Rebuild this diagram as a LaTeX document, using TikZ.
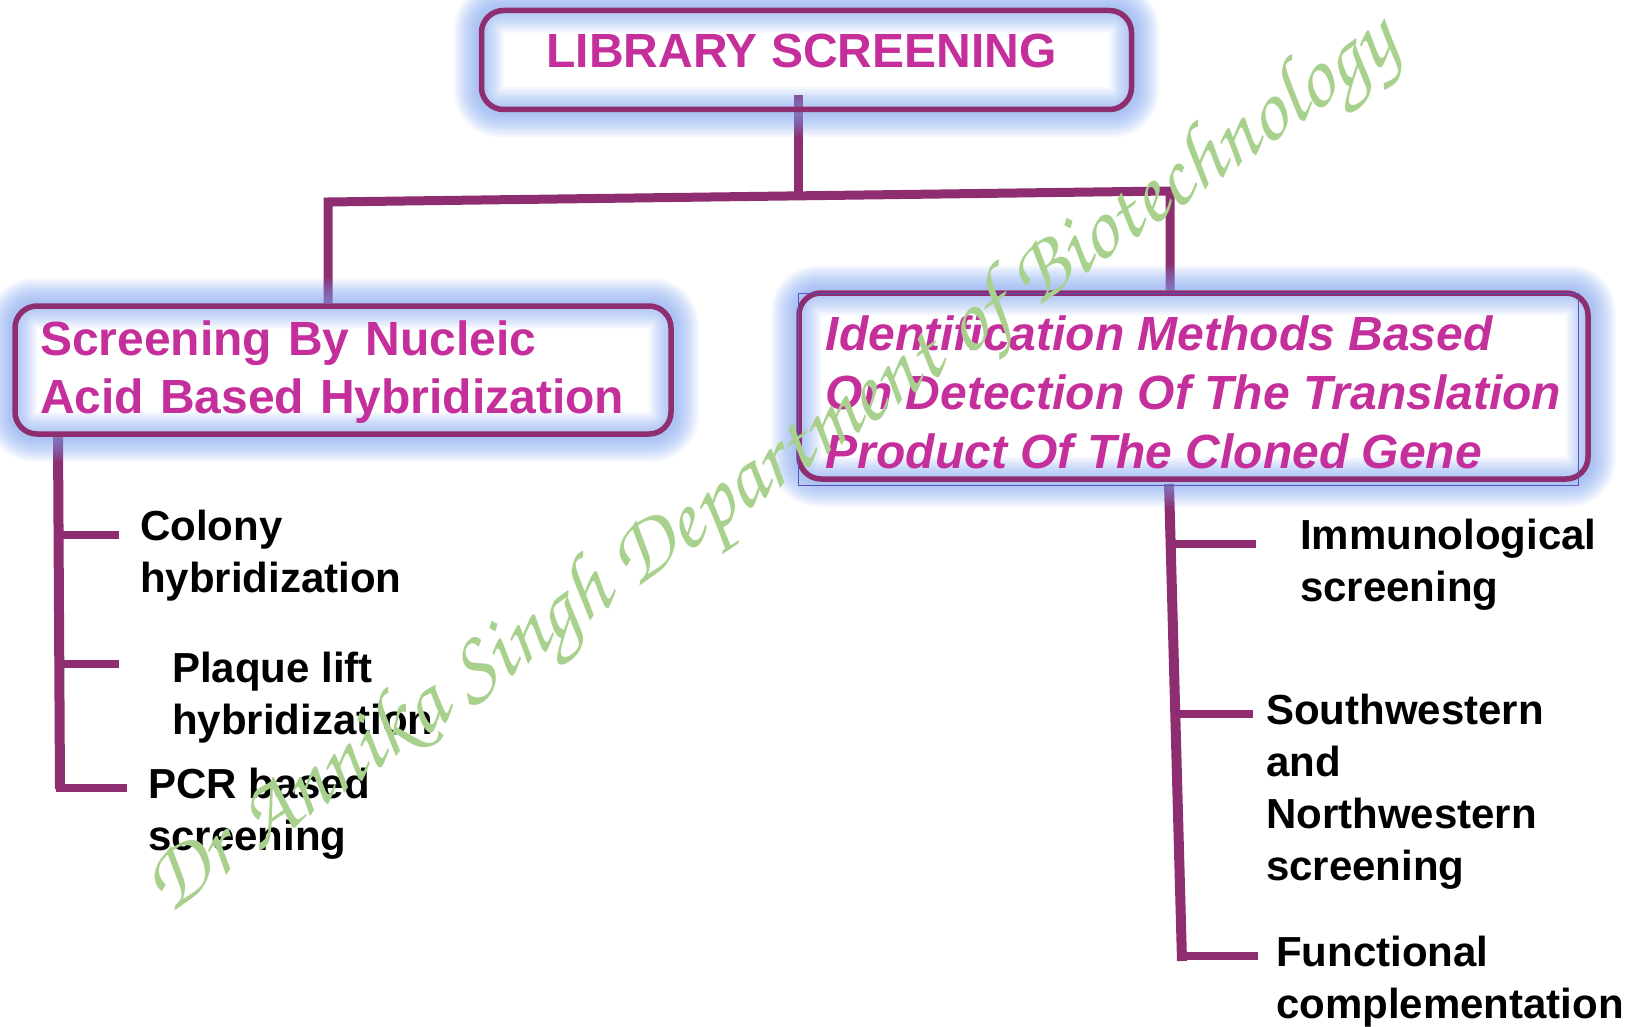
\documentclass[tikz,border=0pt]{standalone}
\usepackage{fontspec}
\setmainfont{Liberation Sans}
\newfontfamily\chorus{TeX Gyre Chorus}
\usepackage{graphicx}
\usetikzlibrary{calc,backgrounds}
\definecolor{mag}{RGB}{196,47,155}
\definecolor{plum}{RGB}{142,45,112}
\definecolor{glowc}{RGB}{125,165,242}
\definecolor{wmark}{RGB}{169,209,142}
\definecolor{frameblue}{RGB}{90,80,190}
\tikzset{
  boxnode/.style={draw=plum, line width=5.5pt, rounded corners=22pt, text=mag,
    font=\bfseries\fontsize{48}{58}\selectfont, inner ysep=0pt},
  leaf/.style={anchor=north west, inner sep=0pt, align=left,
    font=\bfseries\fontsize{42}{52}\selectfont, text=black},
  trunk/.style={draw=plum, line width=10pt},
  twig/.style={draw=plum, line width=8pt},
  link/.style={draw=plum, line width=9pt, line join=miter},
  glowline/.style={draw=glowc, opacity=0.075, rounded corners=22pt},
}
\begin{document}
\begin{tikzpicture}[x=1pt,y=-1pt]
\useasboundingbox (0,0) rectangle (1637,1027);

% boxes
\node[boxnode, minimum width=650pt, minimum height=99pt, inner xsep=0pt, align=center] (T) at (806.5,60)
  {LIBRARY SCREENING\rule[-18pt]{0pt}{18pt}\hspace*{10pt}};
\node[boxnode, minimum height=128pt, text width=606pt, inner xsep=25pt, align=left] (L) at (343,370)
  {\rule{0pt}{38pt}Screening By Nucleic\\Acid Based Hybridization};
\node[boxnode, font=\bfseries\itshape\fontsize{48}{59}\selectfont, minimum width=789pt, minimum height=186pt,
  inner xsep=0pt, align=left] (R) at (1193.5,386)
  {\rule{0pt}{48pt}Identification Methods Based\\On Detection Of The Translation\\Product Of The Cloned Gene\rule[-2pt]{0pt}{2pt}\hspace*{6pt}};
\draw[frameblue, line width=1pt] (798,293) rectangle (1578,485);

% leaves
\node[leaf] (l1) at (140,507) {\rule{0pt}{33pt}Colony\\hybridization};
\node[leaf] (l2) at (172,649) {\rule{0pt}{33pt}Plaque lift\\hybridization};
\node[leaf] (l3) at (148,765) {\rule{0pt}{33pt}PCR based\\screening};
\node[leaf] (r1) at (1300,516) {\rule{0pt}{33pt}Immunological\\screening};
\node[leaf] (r2) at (1266,691) {\rule{0pt}{33pt}Southwestern\\and\\Northwestern\\screening};
\node[leaf] (r3) at (1276,933) {\rule{0pt}{33pt}Functional\\complementation};

% junction coordinates
\coordinate (jt) at ($(T.south)+(-8.5,-17)$);
\coordinate (jm) at (798,196);
\coordinate (hl) at (328,202);
\coordinate (hr) at (1170,191);
\coordinate (lt) at (58,436);
\coordinate (lb) at (60,789);
\coordinate (lc1) at (59,535);  \coordinate (le1) at (119,535);
\coordinate (lc2) at (59,664);  \coordinate (le2) at (119,664);
\coordinate (lc3) at (56,788);  \coordinate (le3) at (127,788);
\coordinate (rt) at (1169,484);
\coordinate (rb) at (1182,961);
\coordinate (rc1) at (1170,543.5); \coordinate (re1) at (1256,543.5);
\coordinate (rc2) at (1175,714);   \coordinate (re2) at (1253,714);
\coordinate (rc3) at (1178,956);   \coordinate (re3) at (1258,956);

\begin{scope}[on background layer]
  \fill[white] (0,0) rectangle (1637,1027);
  \draw[link] (jt) -- (jm);
  \draw[link] (hl |- L.north) -- (hl) -- (hr) -- (hr |- R.north);
  \draw[trunk] (lt) -- (lb);
  \draw[twig] (lc1) -- (le1);
  \draw[twig] (lc2) -- (le2);
  \draw[twig] (lc3) -- (le3);
  \draw[trunk] (rt) -- (rb);
  \draw[twig] (rc1) -- (re1);
  \draw[twig] (rc2) -- (re2);
  \draw[twig] (rc3) -- (re3);
  \foreach \n in {T,L,R}{
    \foreach \w in {50,46,42,38,34,30,26,22,18,14,10,6}{
      \draw[glowline, line width=\w pt] (\n.south west) rectangle (\n.north east);
    }
  }
\end{scope}

% watermark
\node[rotate=35, anchor=base west, text=wmark, inner sep=0pt] (wm) at (168,916)
  {\resizebox{1505pt}{!}{\chorus Dr Annika Singh Department of Biotechnology}};
\end{tikzpicture}
\end{document}
